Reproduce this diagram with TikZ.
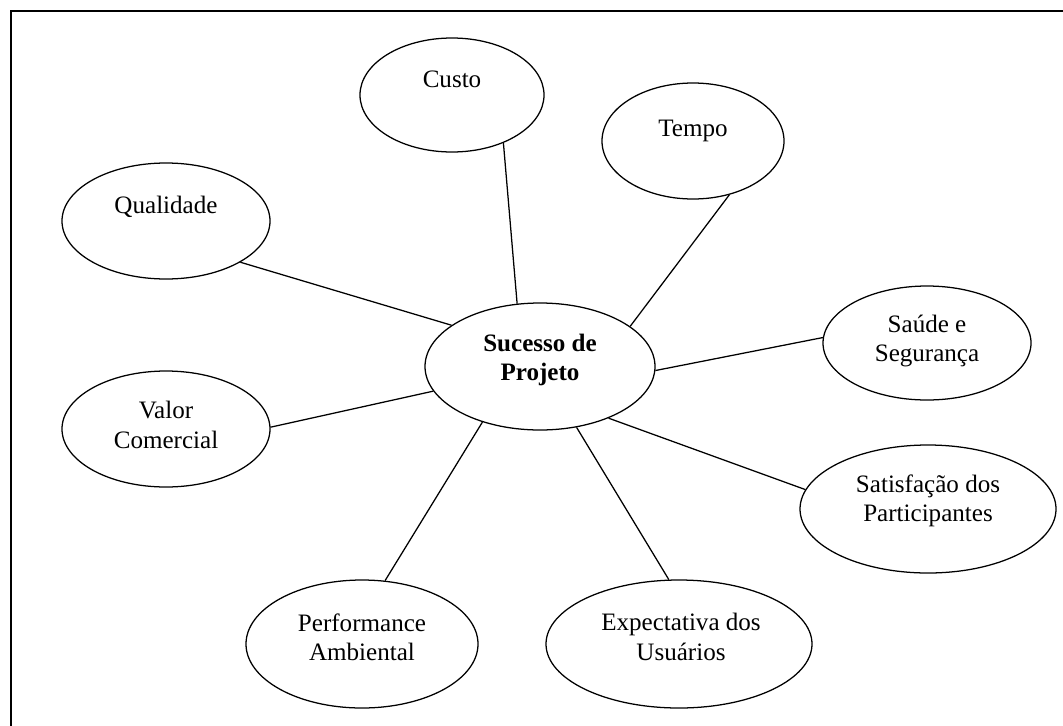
\documentclass[tikz,border=0pt]{standalone}
\usepackage{fontspec}
\setmainfont{Liberation Serif}
\usetikzlibrary{shapes.geometric}

\tikzset{
  oval/.style={draw, ellipse, line width=0.95pt, inner sep=0pt},
  label text/.style={align=center, inner sep=0pt, font=\fontsize{18.8}{22}\selectfont},
  link/.style={line width=0.95pt},
  frame/.style={line width=1.5pt}
}

\begin{document}
\begin{tikzpicture}[x=0.75pt, y=-0.75pt]
  \useasboundingbox (0,0) rectangle (1063,725);
  \clip (0,0) rectangle (1063,725);

  % outer frame (only top and left edges fall inside the page)
  \draw[frame] (1100,10.5) -- (10.5,10.5) -- (10.5,760);

  % ellipses
  \node[oval, minimum width=230*0.75pt, minimum height=127*0.75pt] (centre) at (540,366.5) {};
  \node[oval, minimum width=184*0.75pt, minimum height=114*0.75pt] (custo) at (452,95) {};
  \node[oval, minimum width=182*0.75pt, minimum height=116*0.75pt] (tempo) at (693,141) {};
  \node[oval, minimum width=208*0.75pt, minimum height=116*0.75pt] (qual) at (166,221) {};
  \node[oval, minimum width=208*0.75pt, minimum height=114*0.75pt] (saude) at (927,343) {};
  \node[oval, minimum width=208*0.75pt, minimum height=116*0.75pt] (valor) at (166,429) {};
  \node[oval, minimum width=256*0.75pt, minimum height=128*0.75pt] (satis) at (928,509) {};
  \node[oval, minimum width=232*0.75pt, minimum height=128*0.75pt] (perf) at (362,644) {};
  \node[oval, minimum width=266*0.75pt, minimum height=128*0.75pt] (expec) at (679,644) {};

  % labels
  \node[label text, font=\fontsize{18.8}{22}\selectfont\bfseries] (centre-t) at (540,360) {Sucesso de\\Projeto};
  \node[label text] (custo-t) at (452,79) {Custo};
  \node[label text] (tempo-t) at (693,131) {Tempo};
  \node[label text] (qual-t) at (166,207) {Qualidade};
  \node[label text] (saude-t) at (927,341) {Saúde e\\Segurança};
  \node[label text] (valor-t) at (166,425) {Valor\\Comercial};
  \node[label text] (satis-t) at (928,501) {Satisfação dos\\Participantes};
  \node[label text] (perf-t) at (362,637) {Performance\\Ambiental};
  \node[label text] (expec-t) at (681,637) {Expectativa dos\\Usuários};

  % connectors
  \draw[link] (custo.-43) -- (centre.110.7);
  \draw[link] (tempo.-56) -- (centre.24);
  \draw[link] (qual.-29) -- (centre.155.7);
  \draw[link] (saude.177) -- (centre.-2.7);
  \draw[link] (valor.1) -- (centre.193);
  \draw[link] (satis.171.5) -- (centre.-37);
  \draw[link] (perf.70) -- (centre.224);
  \draw[link] (expec.99) -- (centre.-59.7);
\end{tikzpicture}
\end{document}
